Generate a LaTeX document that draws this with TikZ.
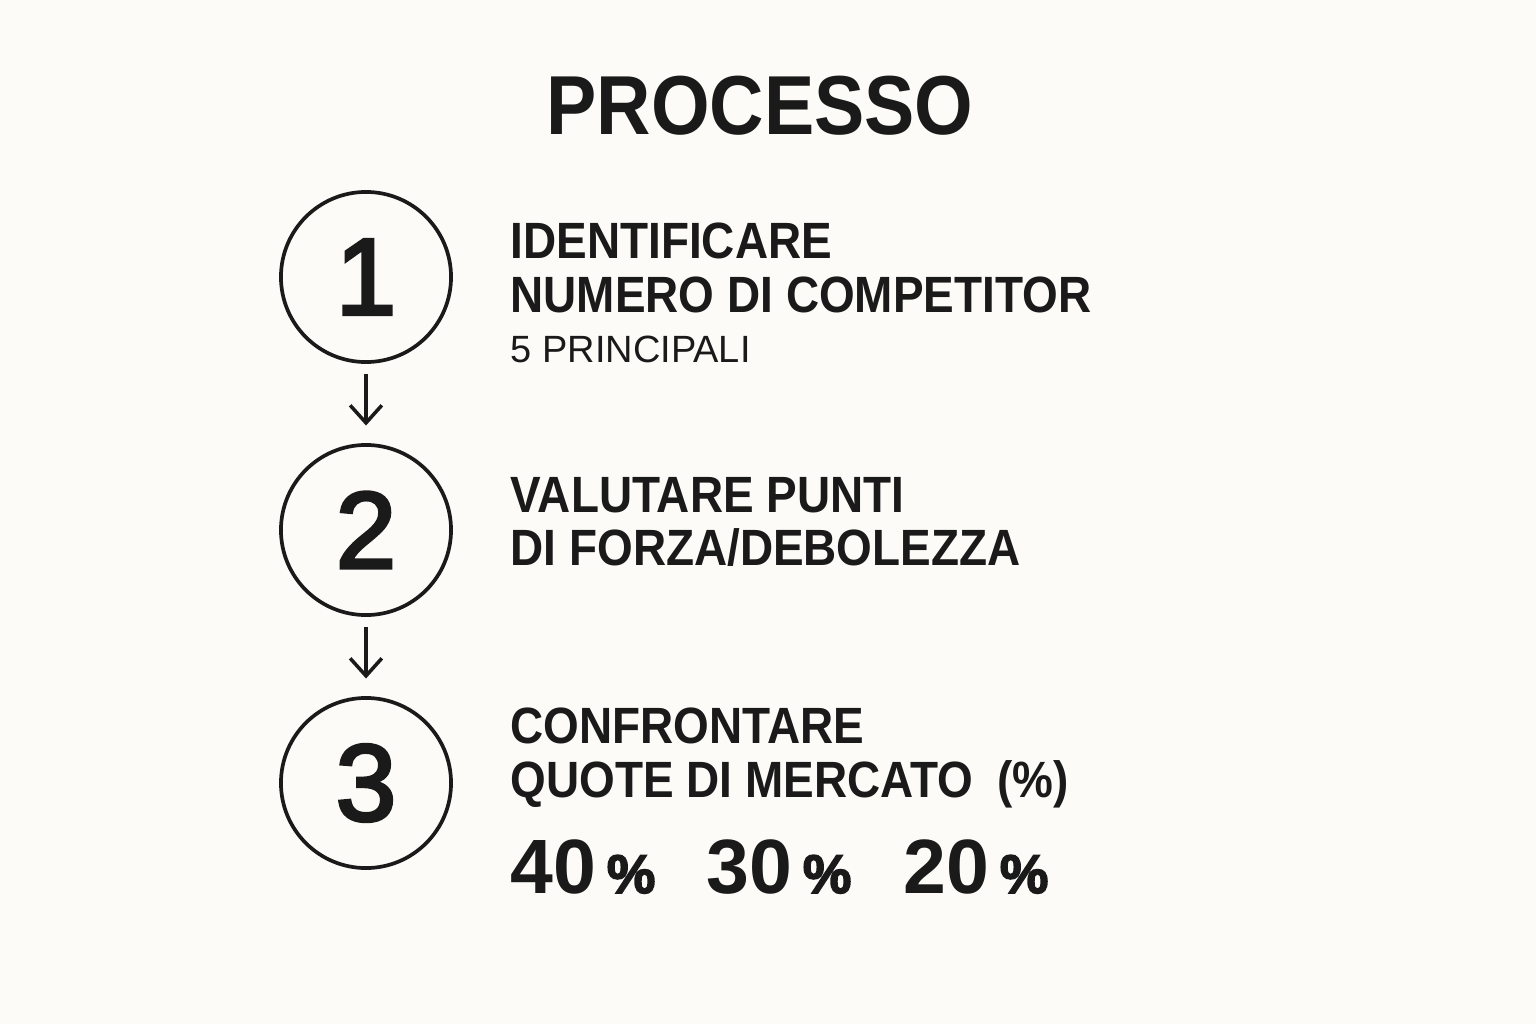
\documentclass[tikz,border=0pt]{standalone}
\usepackage{fontspec}
\setmainfont{Liberation Sans}[FakeStretch=0.9]
\newfontfamily\numfont{Liberation Sans}
\newfontfamily\midfont{Liberation Sans}[FakeBold=3]
\usetikzlibrary{arrows.meta}
\definecolor{bgcol}{RGB}{252,251,247}
\definecolor{inkcol}{RGB}{26,26,26}

\begin{document}
\begin{tikzpicture}[x=0.01cm,y=-0.01cm,inkcol]
                \tikzstyle{stepcircle}=[circle,draw=inkcol,line width=1.05pt,fill=bgcol,minimum size=1.70cm,inner sep=0pt,font=\midfont\fontsize{31}{31}\selectfont]
                \tikzstyle{headline}=[anchor=base west,inner sep=0pt,font=\bfseries\fontsize{14.5}{14.5}\selectfont]
                \tikzstyle{stepnext}=[-{Straight Barb[length=5pt,width=9pt]},line width=1pt,shorten <=3pt,shorten >=5pt]

                \fill[bgcol] (0,0) rectangle (1536,1024);

                \node[anchor=base,inner sep=0pt,font=\bfseries\fontsize{23.8}{23.8}\selectfont] (title) at (760,134) {PROCESSO};

                \foreach \num/\y in {1/277, 2/530, 3/783}
                        \node[stepcircle] (S-\num) at (366,\y) {\num};

                    \foreach \from/\to in {1/2, 2/3}
                        \draw[stepnext] (S-\from) -- (S-\to);

                    \foreach \id/\y/\txt in {1a/258/IDENTIFICARE, 1b/312/NUMERO DI COMPETITOR, 2a/512/VALUTARE PUNTI, 2b/565/DI FORZA\slash DEBOLEZZA, 3a/743/CONFRONTARE}
                        \node[headline] (L-\id) at (510,\y) {\txt};

                    \node[headline] (L-3b) at (510,797) {QUOTE DI MERCATO\hspace{7pt}(\%)};
                    \node[anchor=base west,inner sep=0pt,font=\numfont\fontsize{10.8}{10.8}\selectfont] (L-1c) at (510,362) {5 PRINCIPALI};

                    \foreach \id/\x/\val in {a/510/40, b/706/30, c/903/20}
                        \node[anchor=base west,inner sep=0pt,font=\numfont\bfseries\fontsize{21.9}{21.9}\selectfont] (Q-\id) at (\x,893) {\val\kern3pt{\midfont\fontsize{15.5}{15.5}\selectfont\%}};
            \end{tikzpicture}
\end{document}
